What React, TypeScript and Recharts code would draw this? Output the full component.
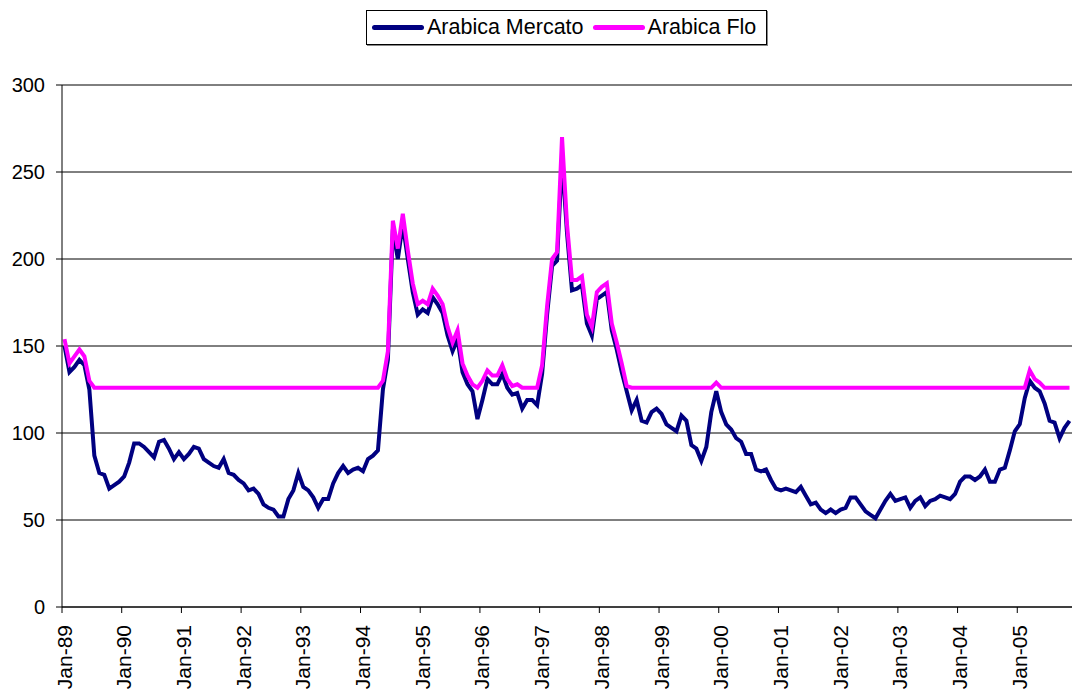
import React from "react";
import { LineChart, Line, XAxis, YAxis, CartesianGrid, Legend } from "recharts";

// Monthly values, Jan-89 .. Nov-05
const mercato: number[] = [
  150, 135, 138, 142, 139, 125, 87, 77, 76, 68,
  70, 72, 75, 83, 94, 94, 92, 89, 86, 95,
  96, 91, 85, 89, 85, 88, 92, 91, 85, 83,
  81, 80, 85, 77, 76, 73, 71, 67, 68, 65,
  59, 57, 56, 52, 52, 62, 67, 77, 69, 67,
  63, 57, 62, 62, 71, 77, 81, 77, 79, 80,
  78, 85, 87, 90, 125, 142, 217, 200, 220, 200,
  181, 168, 171, 169, 178, 174, 169, 156, 147, 154,
  135, 128, 124, 108, 119, 131, 128, 128, 134, 126,
  122, 123, 114, 119, 119, 116, 134, 168, 196, 199,
  258, 215, 182, 183, 185, 163, 156, 177, 179, 181,
  159, 148, 135, 124, 113, 119, 107, 106, 112, 114,
  111, 105, 103, 101, 110, 107, 93, 91, 84, 92,
  112, 124, 112, 105, 102, 97, 95, 88, 88, 79,
  78, 79, 73, 68, 67, 68, 67, 66, 69, 64,
  59, 60, 56, 54, 56, 54, 56, 57, 63, 63,
  59, 55, 53, 51, 56, 61, 65, 61, 62, 63,
  57, 61, 63, 58, 61, 62, 64, 63, 62, 65,
  72, 75, 75, 73, 75, 79, 72, 72, 79, 80,
  90, 101, 105, 120, 130, 126, 124, 117, 107, 106,
  97, 103, 107,
];

const flo: number[] = [
  154, 140, 144, 148, 144, 130, 126, 126, 126, 126,
  126, 126, 126, 126, 126, 126, 126, 126, 126, 126,
  126, 126, 126, 126, 126, 126, 126, 126, 126, 126,
  126, 126, 126, 126, 126, 126, 126, 126, 126, 126,
  126, 126, 126, 126, 126, 126, 126, 126, 126, 126,
  126, 126, 126, 126, 126, 126, 126, 126, 126, 126,
  126, 126, 126, 126, 130, 147, 222, 206, 226, 205,
  186, 174, 176, 174, 183, 179, 174, 161, 152, 159,
  140, 133, 128, 126, 130, 136, 133, 133, 139, 131,
  127, 128, 126, 126, 126, 126, 139, 173, 200, 204,
  270, 220, 188, 188, 190, 168, 161, 181, 184, 186,
  163, 152, 140, 127, 126, 126, 126, 126, 126, 126,
  126, 126, 126, 126, 126, 126, 126, 126, 126, 126,
  126, 129, 126, 126, 126, 126, 126, 126, 126, 126,
  126, 126, 126, 126, 126, 126, 126, 126, 126, 126,
  126, 126, 126, 126, 126, 126, 126, 126, 126, 126,
  126, 126, 126, 126, 126, 126, 126, 126, 126, 126,
  126, 126, 126, 126, 126, 126, 126, 126, 126, 126,
  126, 126, 126, 126, 126, 126, 126, 126, 126, 126,
  126, 126, 126, 126, 136, 131, 129, 126, 126, 126,
  126, 126, 126,
];

const tickLabels: string[] = [
  "Jan-89", "Jan-90", "Jan-91", "Jan-92", "Jan-93", "Jan-94", "Jan-95", "Jan-96", "Jan-97",
  "Jan-98", "Jan-99", "Jan-00", "Jan-01", "Jan-02", "Jan-03", "Jan-04", "Jan-05",
];
const yTicks: number[] = [0, 50, 100, 150, 200, 250, 300];
const seriesNames = { mercato: "Arabica Mercato", flo: "Arabica Flo" };
const MONTHS_PER_TICK = 12;
const CATEGORY_COUNT = 203;

// categories are months; each point sits in the middle of its month slot
const data = mercato.map((m, i) => ({ x: i + 0.5, mercato: m, flo: flo[i] }));
const xTicks = tickLabels.map((_, k) => k * MONTHS_PER_TICK);

const FONT = "'Liberation Sans', Arial, sans-serif";
const NAVY = "#000080";
const MAGENTA = "#FF00FF";

const XTick = (props: any) => {
  const { x, y, payload } = props;
  const label = tickLabels[Math.round(payload.value / MONTHS_PER_TICK)];
  return (
    <g transform={`translate(${x + 2},${y + 10})`}>
      <text
        transform="rotate(-90)"
        textAnchor="end"
        dominantBaseline="central"
        fontSize={21}
        fontFamily={FONT}
        fill="#000"
      >
        {label}
      </text>
    </g>
  );
};

const LegendBox = () => (
  <div
    style={{
      display: "flex",
      alignItems: "center",
      border: "1px solid #000",
      boxShadow: "1px 1px 0 #888",
      background: "#fff",
      height: 35,
      boxSizing: "border-box",
      padding: "0 10px 0 5px",
      fontFamily: FONT,
      fontSize: 21.5,
      color: "#000",
      whiteSpace: "nowrap",
    }}
  >
    <span style={{ display: "inline-block", width: 52, height: 5, background: NAVY, borderRadius: 3, marginRight: 3 }} />
    <span style={{ marginRight: 9 }}>{seriesNames.mercato}</span>
    <span style={{ display: "inline-block", width: 52, height: 5, background: MAGENTA, borderRadius: 3, marginRight: 3 }} />
    <span>{seriesNames.flo}</span>
  </div>
);

export default function App() {
  return (
    <div style={{ position: "absolute", left: 0, top: 0, width: 1072, height: 697, background: "#fff" }}>
      <LineChart
        width={1072}
        height={697}
        data={data}
        margin={{ top: 85, right: 0, left: 0, bottom: 0 }}
      >
        <CartesianGrid horizontal vertical={false} stroke="#000" strokeWidth={1} />
        <XAxis
          dataKey="x"
          type="number"
          domain={[0, CATEGORY_COUNT]}
          ticks={xTicks}
          interval={0}
          height={90}
          tickSize={6}
          tickLine={{ stroke: "#000" }}
          axisLine={{ stroke: "#000" }}
          tick={<XTick />}
        />
        <YAxis
          type="number"
          domain={[0, 300]}
          ticks={yTicks}
          interval={0}
          width={62}
          tickSize={6}
          tickMargin={11}
          tickLine={{ stroke: "#000" }}
          axisLine={{ stroke: "#000" }}
          tick={{ fontSize: 20, fontFamily: FONT, fill: "#000" }}
        />
        <Legend
          layout="horizontal"
          verticalAlign="middle"
          align="center"
          content={<LegendBox />}
          wrapperStyle={{ position: "absolute", top: 10, left: 366, width: "auto" }}
        />
        <Line
          type="linear"
          dataKey="mercato"
          name={seriesNames.mercato}
          stroke={NAVY}
          strokeWidth={4}
          dot={false}
          isAnimationActive={false}
        />
        <Line
          type="linear"
          dataKey="flo"
          name={seriesNames.flo}
          stroke={MAGENTA}
          strokeWidth={4}
          dot={false}
          isAnimationActive={false}
        />
      </LineChart>
    </div>
  );
}
